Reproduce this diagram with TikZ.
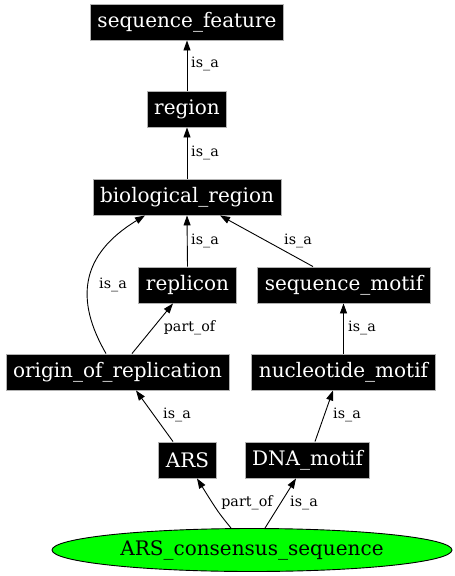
\documentclass[tikz,border=0pt]{standalone}
\usepackage{fontspec}
\setmainfont{DejaVu Serif}
\usetikzlibrary{arrows.meta,shapes.geometric,calc}

\tikzset{
  term/.style={fill=black,draw=gray!60,text=white,minimum height=36pt,inner xsep=7pt,font=\fontsize{20}{24}\selectfont},
  root/.style={ellipse,fill=green,draw=black,minimum width=400pt,minimum height=43pt,inner sep=0pt,font=\fontsize{20}{24}\selectfont},
  rel/.style={font=\fontsize{14.3}{17}\selectfont,inner sep=0pt},
}

\begin{document}
\begin{tikzpicture}[x=1pt,y=-1pt,line width=0.9pt]
    \useasboundingbox(0,0)rectangle(455,576);
    \node[term](sf)at(187,22){sequence\_feature};
    \node[term](region)at(187,109){region};
    \node[term](bioreg)at(187,197){biological\_region};
    \node[term](replicon)at(187.5,285){replicon};
    \node[term](smotif)at(344,285){sequence\_motif};
    \node[term](origin)at(117.5,372){origin\_of\_replication};
    \node[term](nmotif)at(343.5,372){nucleotide\_motif};
    \node[term](ars)at(187.5,460){ARS};
    \node[term](dna)at(307.5,460){DNA\_motif};
    \node[root](acs)at(252,550){ARS\_consensus\_sequence};
    % is_a / part_of edges, child to parent
    \begin{scope}[->,>={Triangle[length=10pt,width=7pt]}]
      \draw(region.north)--(sf.south)node[rel]at(205,64){is\_a};
      \draw(bioreg.north)--(region.south)node[rel]at(205,153){is\_a};
      \draw(replicon.north)--(bioreg.south)node[rel]at(205,241){is\_a};
      \draw([xshift=-31pt]smotif.north)--([xshift=33pt]bioreg.south)node[rel]at(298,241){is\_a};
      \draw([xshift=-11.5pt]origin.north)..controls(75,300)and(80,255)..([xshift=-42pt]bioreg.south);
      \node[rel](lorig)at(113,285){is\_a};
      \draw([xshift=14.5pt]origin.north)--([xshift=-14.5pt]replicon.south)node[rel]at(189.5,328){part\_of};
      \draw(nmotif.north)--(nmotif.north|-smotif.south)node[rel]at(362,328){is\_a};
      \draw([xshift=-14.5pt]ars.north)--([xshift=18.5pt]origin.south)node[rel]at(177,415){is\_a};
      \draw([xshift=7.5pt]dna.north)--([xshift=-10.5pt]nmotif.south)node[rel]at(347,415){is\_a};
      \draw([xshift=-21pt]acs.north)..controls(218,512)..([xshift=9.5pt]ars.south);
      \node[rel](lacs)at(247,503){part\_of};
      \draw([xshift=13pt]acs.north)--([xshift=-11.5pt]dna.south)node[rel]at(304,503){is\_a};
    \end{scope}
\end{tikzpicture}
\end{document}
